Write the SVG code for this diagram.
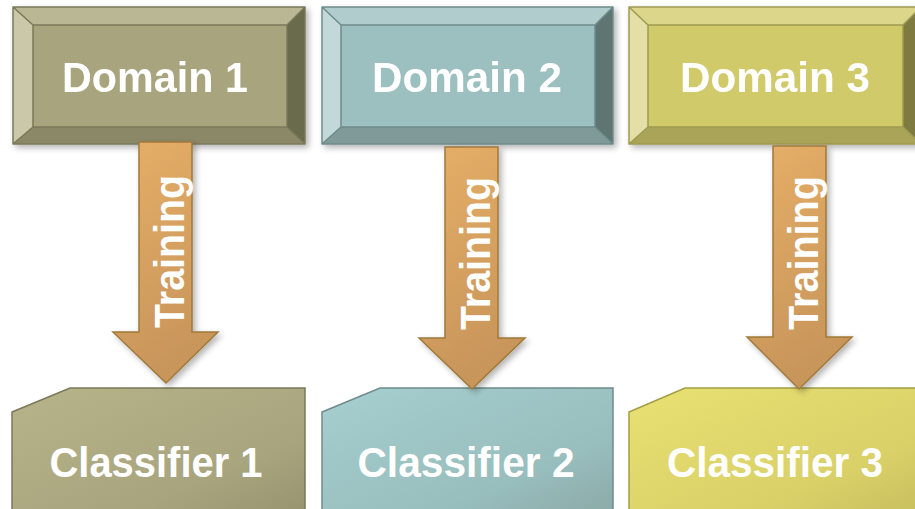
<svg xmlns="http://www.w3.org/2000/svg" width="915" height="509" viewBox="0 0 915 509">
  <defs>
    <style>
      .lbl { font-family: "Liberation Sans", Arial, sans-serif; font-weight: bold; fill: #ffffff; }
      .dom { font-size: 42px; }
      .cls { font-size: 42px; }
      .trn { font-size: 43px; }
      .edge { stroke-width: 1.5; stroke-linejoin: round; }
      .d1 .face { fill: #A8A47E; } .d1 .top { fill: #BAB794; } .d1 .left { fill: #CAC8A9; } .d1 .right { fill: #6A6A4E; } .d1 .bot { fill: #8A8866; } .d1 .edge { stroke: #7A7858; fill: none; }
      .d2 .face { fill: #9CBFBF; } .d2 .top { fill: #B0CCCC; } .d2 .left { fill: #C3D8D8; } .d2 .right { fill: #5E7472; } .d2 .bot { fill: #7F9A98; } .d2 .edge { stroke: #6F8C8A; fill: none; }
      .d3 .face { fill: #D1CA6A; } .d3 .top { fill: #DBD68A; } .d3 .left { fill: #E3DFA6; } .d3 .right { fill: #7E7A40; } .d3 .bot { fill: #AAA458; } .d3 .edge { stroke: #9F9A50; fill: none; }
      .arrow { fill: url(#gArrow); stroke: #A07A3A; stroke-width: 1.5; stroke-linejoin: miter; filter: url(#shadow); }
    </style>
    <linearGradient id="gArrow" x1="0" y1="0" x2="0.3" y2="1">
      <stop offset="0" stop-color="#E6AF68"/>
      <stop offset="1" stop-color="#C8955A"/>
    </linearGradient>
    <linearGradient id="gC1" x1="0" y1="0" x2="1" y2="1">
      <stop offset="0" stop-color="#B7B48A"/>
      <stop offset="0.7" stop-color="#A8A47E"/>
      <stop offset="1" stop-color="#96936E"/>
    </linearGradient>
    <linearGradient id="gC2" x1="0" y1="0" x2="1" y2="1">
      <stop offset="0" stop-color="#A6CFCF"/>
      <stop offset="0.7" stop-color="#98BDBD"/>
      <stop offset="1" stop-color="#8BA9A7"/>
    </linearGradient>
    <linearGradient id="gC3" x1="0" y1="0" x2="1" y2="1">
      <stop offset="0" stop-color="#E9E172"/>
      <stop offset="0.7" stop-color="#D9D068"/>
      <stop offset="1" stop-color="#C7BE5E"/>
    </linearGradient>
    <filter id="shadow" x="-20%" y="-10%" width="150%" height="130%">
      <feGaussianBlur in="SourceAlpha" stdDeviation="3"/>
      <feOffset dx="3" dy="3" result="b"/>
      <feComponentTransfer><feFuncA type="linear" slope="0.3"/></feComponentTransfer>
      <feMerge><feMergeNode/><feMergeNode in="SourceGraphic"/></feMerge>
    </filter>
  </defs>

  <rect width="915" height="509" fill="#ffffff"/>

  <!-- Domain boxes (bevelled) -->
  <g id="domain1" class="d1" filter="url(#shadow)">
    <rect class="face" x="13" y="7" width="292" height="137"/>
    <path class="top" d="M13,7 H305 L287,25 H33 Z"/>
    <path class="left" d="M13,7 L33,25 V127 L13,144 Z"/>
    <path class="right" d="M305,7 V144 L287,127 V25 Z"/>
    <path class="bot" d="M13,144 H305 L287,127 H33 Z"/>
    <path class="edge" d="M13,7 H305 V144 H13 Z M33,25 H287 V127 H33 Z M13,7 L33,25 M305,7 L287,25 M305,144 L287,127 M13,144 L33,127"/>
    <text class="lbl dom" x="155" y="92" text-anchor="middle" textLength="186" lengthAdjust="spacingAndGlyphs">Domain 1</text>
  </g>
  <g id="domain2" class="d2" filter="url(#shadow)">
    <rect class="face" x="322" y="7" width="291" height="137"/>
    <path class="top" d="M322,7 H613 L595,25 H341 Z"/>
    <path class="left" d="M322,7 L341,25 V127 L322,144 Z"/>
    <path class="right" d="M613,7 V144 L595,127 V25 Z"/>
    <path class="bot" d="M322,144 H613 L595,127 H341 Z"/>
    <path class="edge" d="M322,7 H613 V144 H322 Z M341,25 H595 V127 H341 Z M322,7 L341,25 M613,7 L595,25 M613,144 L595,127 M322,144 L341,127"/>
    <text class="lbl dom" x="467" y="92" text-anchor="middle" textLength="190" lengthAdjust="spacingAndGlyphs">Domain 2</text>
  </g>
  <g id="domain3" class="d3" filter="url(#shadow)">
    <rect class="face" x="629" y="7" width="292" height="137"/>
    <path class="top" d="M629,7 H921 L903,25 H648 Z"/>
    <path class="left" d="M629,7 L648,25 V127 L629,144 Z"/>
    <path class="right" d="M921,7 V144 L903,127 V25 Z"/>
    <path class="bot" d="M629,144 H921 L903,127 H648 Z"/>
    <path class="edge" d="M629,7 H921 V144 H629 Z M648,25 H903 V127 H648 Z M629,7 L648,25 M921,7 L903,25 M921,144 L903,127 M629,144 L648,127"/>
    <text class="lbl dom" x="775" y="92" text-anchor="middle" textLength="190" lengthAdjust="spacingAndGlyphs">Domain 3</text>
  </g>

  <!-- Classifier boxes (snipped top-left corner) -->
  <g id="classifier1">
    <path d="M12,412 L70,388 H305 V515 H12 Z" fill="url(#gC1)" stroke="#7A7858" stroke-width="1.5"/>
    <text class="lbl cls" x="156" y="477" text-anchor="middle" textLength="213" lengthAdjust="spacingAndGlyphs">Classifier 1</text>
  </g>
  <g id="classifier2">
    <path d="M322,412 L380,388 H613 V515 H322 Z" fill="url(#gC2)" stroke="#6F8C8A" stroke-width="1.5"/>
    <text class="lbl cls" x="466" y="477" text-anchor="middle" textLength="217" lengthAdjust="spacingAndGlyphs">Classifier 2</text>
  </g>
  <g id="classifier3">
    <path d="M629,412 L685,388 H925 V515 H629 Z" fill="url(#gC3)" stroke="#A39D45" stroke-width="1.5"/>
    <text class="lbl cls" x="775" y="477" text-anchor="middle" textLength="216" lengthAdjust="spacingAndGlyphs">Classifier 3</text>
  </g>

  <!-- Connectors: block arrows labelled "Training" -->
  <g id="connectors">
    <g id="train1">
      <path class="arrow" d="M139,142 H192 V332 H218 L166,383 L113,332 H139 Z"/>
      <text class="lbl trn" transform="translate(184,328) rotate(-90)" textLength="153" lengthAdjust="spacingAndGlyphs">Training</text>
    </g>
    <g id="train2">
      <path class="arrow" d="M445,147 H498 V338 H525 L472,389 L419,338 H445 Z"/>
      <text class="lbl trn" transform="translate(490,330) rotate(-90)" textLength="153" lengthAdjust="spacingAndGlyphs">Training</text>
    </g>
    <g id="train3">
      <path class="arrow" d="M773,146 H826 V337 H852 L799,389 L747,337 H773 Z"/>
      <text class="lbl trn" transform="translate(818,330) rotate(-90)" textLength="154" lengthAdjust="spacingAndGlyphs">Training</text>
    </g>
  </g>
</svg>
